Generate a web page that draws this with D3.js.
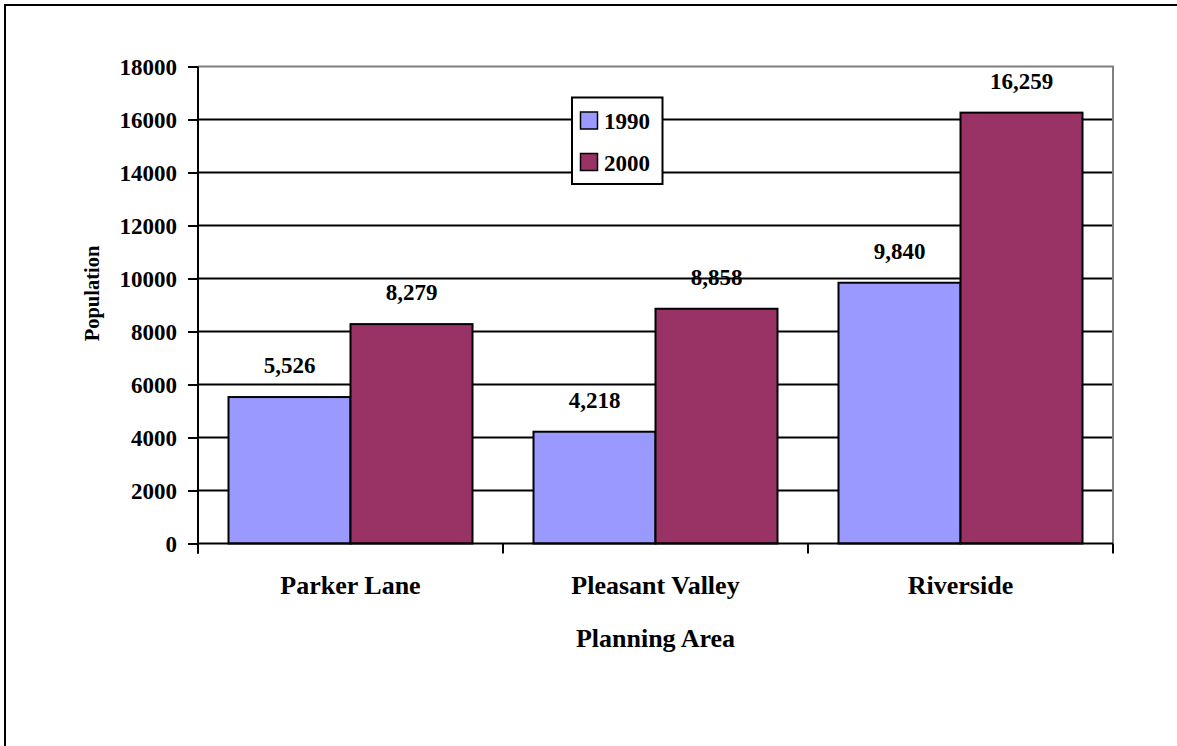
<!DOCTYPE html>
<html>
<head>
<meta charset="utf-8">
<script src="https://cdn.jsdelivr.net/npm/d3@7"></script>
<style>
  html, body { margin: 0; padding: 0; background: #fff; overflow: hidden; }
  svg { display: block; overflow: hidden; }
  text { font-family: "Liberation Serif", "Times New Roman", serif; font-weight: bold; fill: #000; }
</style>
</head>
<body>
<svg id="chart" width="1177" height="746"></svg>
<script>
const categories = ["Parker Lane", "Pleasant Valley", "Riverside"];
const seriesNames = ["1990", "2000"];
const values1990 = [5526, 4218, 9840];
const values2000 = [8279, 8858, 16259];
const yTicks = [0, 2000, 4000, 6000, 8000, 10000, 12000, 14000, 16000, 18000];
const colors = ["#9999FF", "#993366"];

const svg = d3.select("#chart");
const W = 1177, H = 746;
const plot = { left: 198, right: 1113, top: 66.5, bottom: 543.5 };
const numSize = 23, catSize = 26;

svg.append("rect").attr("width", W).attr("height", H).attr("fill", "#fff");
// outer border: only top and left edges are inside the picture
svg.append("path").attr("d", `M5,${H + 10}V5H${W + 10}`)
  .attr("fill", "none").attr("stroke", "#000").attr("stroke-width", 2);

const x = d3.scaleBand().domain(categories).range([plot.left, plot.right]).padding(0);
const xs = d3.scaleBand().domain(seriesNames).range([0, x.bandwidth()]).paddingInner(0).paddingOuter(0.25);
const y = d3.scaleLinear().domain([0, 18000]).range([plot.bottom, plot.top]);

// gridlines
svg.append("g").selectAll("line").data(yTicks.filter(t => t > 0 && t < 18000)).join("line")
  .attr("x1", plot.left).attr("x2", plot.right)
  .attr("y1", d => y(d)).attr("y2", d => y(d))
  .attr("stroke", "#000").attr("stroke-width", 2);

// plot border top/right (gray)
svg.append("path")
  .attr("d", `M${plot.left},${y(18000)}H${plot.right}V${plot.bottom}`)
  .attr("fill", "none").attr("stroke", "#808080").attr("stroke-width", 2);

// bars
const data = categories.map((c, i) => ({ cat: c, vals: [values1990[i], values2000[i]] }));
const groups = svg.append("g").selectAll("g").data(data).join("g")
  .attr("transform", d => `translate(${x(d.cat)},0)`);
groups.selectAll("rect").data(d => d.vals.map((v, j) => ({ s: seriesNames[j], v, j }))).join("rect")
  .attr("x", d => xs(d.s)).attr("width", xs.bandwidth())
  .attr("y", d => y(d.v)).attr("height", d => y(0) - y(d.v))
  .attr("fill", d => colors[d.j]).attr("stroke", "#000").attr("stroke-width", 2);
groups.selectAll("text").data(d => d.vals.map((v, j) => ({ s: seriesNames[j], v, j }))).join("text")
  .attr("x", d => xs(d.s) + xs.bandwidth() / 2).attr("y", d => y(d.v) - 24)
  .attr("text-anchor", "middle").attr("font-size", numSize)
  .text(d => d3.format(",")(d.v));

// y axis
const yAxis = d3.axisLeft(y).tickValues(yTicks).tickSize(10).tickPadding(11).tickFormat(d3.format("d"));
const gy = svg.append("g").attr("transform", `translate(${plot.left},0)`).call(yAxis);
gy.select(".domain").remove();
gy.selectAll(".tick line").attr("stroke", "#000").attr("stroke-width", 2);
gy.selectAll(".tick text").attr("font-size", numSize).attr("font-family", "Liberation Serif").attr("font-weight", "bold").attr("fill", "#000").attr("dy", "0.34em");
svg.append("line").attr("x1", plot.left).attr("x2", plot.left).attr("y1", plot.top).attr("y2", plot.bottom + 10)
  .attr("stroke", "#000").attr("stroke-width", 2);

// x axis
svg.append("line").attr("x1", plot.left).attr("x2", plot.right).attr("y1", plot.bottom).attr("y2", plot.bottom)
  .attr("stroke", "#000").attr("stroke-width", 2);
const boundaries = categories.map(c => x(c)).concat([plot.right]);
svg.append("g").selectAll("line").data(boundaries).join("line")
  .attr("x1", d => d).attr("x2", d => d).attr("y1", plot.bottom).attr("y2", plot.bottom + 10)
  .attr("stroke", "#000").attr("stroke-width", 2);
svg.append("g").selectAll("text").data(categories).join("text")
  .attr("x", d => x(d) + x.bandwidth() / 2).attr("y", 594)
  .attr("text-anchor", "middle").attr("font-size", catSize).text(d => d);

// axis titles
svg.append("text").attr("x", 655.5).attr("y", 647).attr("text-anchor", "middle")
  .attr("font-size", catSize).text("Planning Area");
svg.append("text").attr("transform", "translate(99,293.5) rotate(-90)").attr("text-anchor", "middle")
  .attr("font-size", 20.5).text("Population");

// legend
const lg = svg.append("g");
lg.append("rect").attr("x", 572).attr("y", 97.5).attr("width", 90.5).attr("height", 86.5)
  .attr("fill", "#fff").attr("stroke", "#000").attr("stroke-width", 2);
seriesNames.forEach((s, i) => {
  const yy = 112 + i * 41.5;
  lg.append("rect").attr("x", 580.5).attr("y", yy).attr("width", 17).attr("height", 17)
    .attr("fill", colors[i]).attr("stroke", "#000").attr("stroke-width", 1.5);
  lg.append("text").attr("x", 604).attr("y", yy + 17).attr("font-size", numSize).text(s);
});
</script>
</body>
</html>
